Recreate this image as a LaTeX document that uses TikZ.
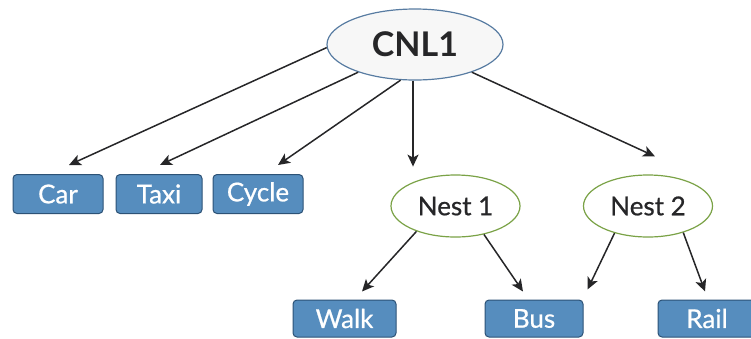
\documentclass[tikz,border=0pt]{standalone}
\usepackage{fontspec}
\setmainfont{Lato}
\newfontfamily\labelfont[FakeBold=0.7]{Lato}
\usetikzlibrary{shapes.geometric,arrows.meta,calc}

\definecolor{boxfill}{RGB}{86,141,190}
\definecolor{boxline}{RGB}{44,82,118}
\definecolor{rootline}{RGB}{88,124,162}
\definecolor{nestline}{RGB}{122,162,70}
\definecolor{inktext}{RGB}{38,38,40}
\definecolor{wire}{RGB}{38,38,40}

\tikzset{
  mode/.style={draw=boxline, fill=boxfill, line width=1pt, rounded corners=4pt,
    minimum height=39pt, inner sep=0pt, text=white,
    font=\labelfont\fontsize{26}{26}\selectfont},
  root/.style={ellipse, draw=rootline, fill=white!97!black, line width=1.2pt,
    minimum width=176pt, minimum height=71pt, inner sep=0pt, text=inktext,
    font=\fontsize{34}{34}\selectfont\bfseries},
  nest/.style={ellipse, draw=nestline, fill=white, line width=1.2pt,
    minimum width=129pt, minimum height=62pt, inner sep=0pt, text=inktext,
    font=\labelfont\fontsize{26}{26}\selectfont},
  arr/.style={draw=wire, line width=1.5pt, -{Stealth[length=12pt,width=11pt,inset=3pt]}},
}

\begin{document}
\begin{tikzpicture}[x=1pt,y=-1pt]
  \useasboundingbox (0,0) rectangle (751,338);

  % root and nests
  \node[root] (cnl) at (415,44.5) {CNL1};
  \node[nest] (nest1) at (455.5,206) {Nest 1};
  \node[nest] (nest2) at (648,206) {Nest 2};

  % alternatives
  \node[mode, minimum width=90pt] (car)   at (58,194)    {Car};
  \node[mode, minimum width=86pt] (taxi)  at (159,194)   {Taxi};
  \node[mode, minimum width=90pt] (cycle) at (258,194)   {Cycle};
  \node[mode, minimum width=103pt, minimum height=37pt] (walk) at (344.5,318.5) {Walk};
  \node[mode, minimum width=98pt, minimum height=37pt]  (bus)  at (534,318.5)   {Bus};
  \node[mode, minimum width=98pt, minimum height=37pt]  (rail) at (707,318.5)   {Rail};

  % branches from the root
  \draw[arr] (cnl.182) -- ($(car.north)+(11,-9)$);
  \draw[arr] (cnl.206) -- ($(taxi.north)+(1,-9)$);
  \draw[arr] (cnl.248) -- ($(cycle.north)+(20,-9)$);
  \draw[arr] ($(cnl.south)+(-2,0)$) -- ($(cnl.south)+(-2,86)$);
  \draw[arr] (cnl.334) -- ($(nest2.north)+(7,-18)$);

  % branches from the nests
  \draw[arr] (nest1.213) -- ($(walk.north)+(17.5,-8)$);
  \draw[arr] (nest1.315) -- ($(bus.north)+(-11,-8)$);
  \draw[arr] (nest2.219) -- ($(bus.north east)+(4,-10)$);
  \draw[arr] (nest2.323) -- ($(rail.north)+(-2,-8)$);
\end{tikzpicture}
\end{document}
